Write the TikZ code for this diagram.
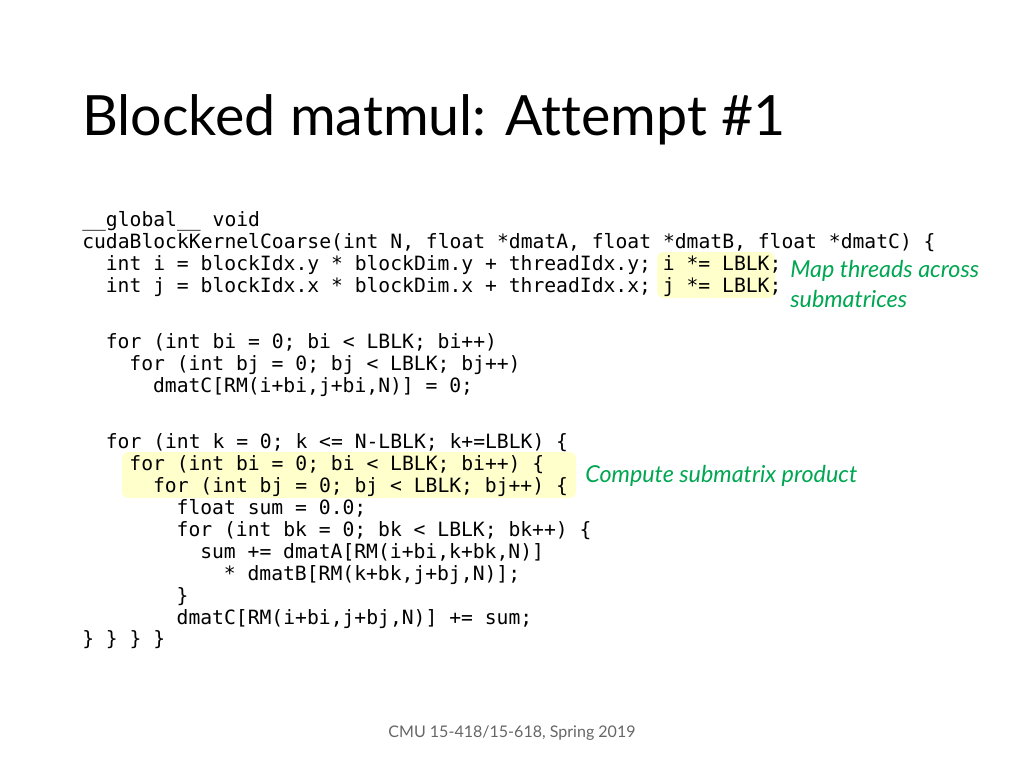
\documentclass[tikz,border=0pt]{standalone}
\usepackage{fontspec}
\setmainfont[Ligatures=NoCommon]{Lato}
\setmonofont{DejaVu Sans Mono}
\definecolor{hilite}{RGB}{255,255,204}
\definecolor{notegreen}{RGB}{0,166,81}
\tikzset{
  code/.style={anchor=base west,inner sep=0pt,font=\fontsize{14}{16}\ttfamily},
  note/.style={anchor=base west,inner sep=0pt,text=notegreen,font=\fontsize{16.6}{18}\selectfont\itshape},
  mark box/.style={fill=hilite,rounded corners=4pt}
}
\begin{document}
\begin{tikzpicture}[x=0.025cm,y=-0.025cm]
\useasboundingbox (0,0) rectangle (1024,768);

% highlights
\fill[mark box] (657,252) rectangle (775,298);
\fill[mark box] (122,452) rectangle (576,498);

% title
\node[anchor=base west,inner sep=0pt,font=\fontsize{39.5}{44}\selectfont] (title) at (82,136) {Blocked matmul: Attempt \#1};

% code
\node[code] (l1) at (82,226) {\_\_global\_\_ void};
\node[code] (l2) at (82,248) {cudaBlockKernelCoarse(int N, float *dmatA, float *dmatB, float *dmatC) \{};
\node[code] (l3) at (105.6,270) {int i = blockIdx.y * blockDim.y + threadIdx.y; i *= LBLK;};
\node[code] (l4) at (105.6,292) {int j = blockIdx.x * blockDim.x + threadIdx.x; j *= LBLK;};

\node[code] (l5) at (105.6,348) {for (int bi = 0; bi < LBLK; bi++)};
\node[code] (l6) at (129.2,370) {for (int bj = 0; bj < LBLK; bj++)};
\node[code] (l7) at (152.8,392) {dmatC[RM(i+bi,j+bi,N)] = 0;};

\node[code] (l8) at (105.6,448) {for (int k = 0; k <= N-LBLK; k+=LBLK) \{};
\node[code] (l9) at (129.2,470) {for (int bi = 0; bi < LBLK; bi++) \{};
\node[code] (l10) at (152.8,492) {for (int bj = 0; bj < LBLK; bj++) \{};
\node[code] (l11) at (176.4,514) {float sum = 0.0;};
\node[code] (l12) at (176.4,536) {for (int bk = 0; bk < LBLK; bk++) \{};
\node[code] (l13) at (200,558) {sum += dmatA[RM(i+bi,k+bk,N)]};
\node[code] (l14) at (223.6,580) {* dmatB[RM(k+bk,j+bj,N)];};
\node[code] (l15) at (176.4,602) {\}};
\node[code] (l16) at (176.4,624) {dmatC[RM(i+bi,j+bj,N)] += sum;};
\node[code] (l17) at (82,645) {\} \} \} \}};

% notes
\node[note] (map) at (790,277) {Map threads across};
\node[note] (sub) at (790,307) {submatrices};
\node[note] (prod) at (585,482) {Compute submatrix product};

% footer
\node[inner sep=0pt,text=black!60,font=\fontsize{11.4}{13}\selectfont] (foot) at (512,733) {CMU 15-418/15-618, Spring 2019};
\end{tikzpicture}
\end{document}
